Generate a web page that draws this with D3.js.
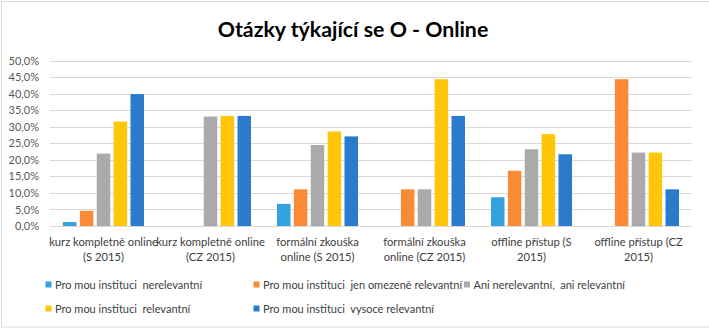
<!DOCTYPE html>
<html><head><meta charset="utf-8">
<script src="https://cdn.jsdelivr.net/npm/d3@7"></script>
<style>
html,body{margin:0;padding:0;background:#fff;}
svg text{font-family:Lato,"Open Sans",sans-serif;}
</style></head>
<body>
<svg id="chart" width="709" height="329"></svg>
<script>
const title = "Otázky týkající se O - Online";
const categories = [
  ["kurz kompletně online", "(S 2015)"],
  ["kurz kompletně online", "(CZ 2015)"],
  ["formální zkouška", "online (S 2015)"],
  ["formální zkouška", "online (CZ 2015)"],
  ["offline přístup (S", "2015)"],
  ["offline přístup (CZ", "2015)"]
];
const seriesNames = [
  "Pro mou instituci  nerelevantní",
  "Pro mou instituci  jen omezeně relevantní",
  "Ani nerelevantní,  ani relevantní",
  "Pro mou instituci  relevantní",
  "Pro mou instituci  vysoce relevantní"
];
const seriesColors = ["#33a2dd", "#fb8a36", "#aaaaaa", "#ffc60a", "#2b7bcd"];
const nerelevantni      = [1.2, null, 6.7, null, 8.7, null];
const omezeneRelevantni = [4.6, null, 11.1, 11.1, 16.7, 44.4];
const aniAni            = [21.9, 33.1, 24.5, 11.1, 23.2, 22.2];
const relevantni        = [31.6, 33.3, 28.6, 44.4, 27.8, 22.2];
const vysoceRelevantni  = [39.9, 33.3, 27.1, 33.3, 21.7, 11.1];
const yTicks = [0, 5, 10, 15, 20, 25, 30, 35, 40, 45, 50];

const series = [nerelevantni, omezeneRelevantni, aniAni, relevantni, vysoceRelevantni];

const svg = d3.select("#chart");
const plot = {left: 50, right: 692, top: 60.7, bottom: 226};

// frame
svg.append("rect").attr("x", 1.5).attr("y", 1.5).attr("width", 720).attr("height", 325.5)
  .attr("fill", "#fff").attr("stroke", "#d9d9d9").attr("stroke-width", 1);

svg.append("text").attr("x", 353).attr("y", 37).attr("text-anchor", "middle")
  .attr("font-size", 21.3).attr("font-weight", "bold").attr("fill", "#000").text(title);

const y = d3.scaleLinear().domain([0, 50]).range([plot.bottom, plot.top]);
const x = d3.scaleBand().domain(d3.range(categories.length)).range([plot.left, plot.right]).padding(0);
const xs = d3.scaleBand().domain(d3.range(series.length)).range([0, 81]).paddingInner(0.2);

const fmt = v => d3.format(".1f")(v).replace(".", ",") + "%";

// gridlines
svg.append("g").selectAll("line").data(yTicks).join("line")
  .attr("x1", plot.left).attr("x2", plot.right)
  .attr("y1", d => Math.round(y(d)) + 0.5).attr("y2", d => Math.round(y(d)) + 0.5)
  .attr("stroke", "#d9d9d9").attr("stroke-width", 1);

// y axis labels
const yAxis = d3.axisLeft(y).tickValues(yTicks).tickFormat(fmt).tickSize(0).tickPadding(0);
const gy = svg.append("g").attr("transform", `translate(39,0)`).call(yAxis);
gy.select(".domain").remove();
gy.selectAll("text").attr("font-size", 11).attr("fill", "#595959").attr("font-family", "Lato");

// bars
const off = x.bandwidth() / 2 - 40.5;
series.forEach((vals, si) => {
  svg.append("g").selectAll("rect").data(vals.map((v, i) => ({v, i})).filter(d => d.v != null)).join("rect")
    .attr("x", d => x(d.i) + off + xs(si))
    .attr("width", xs.bandwidth())
    .attr("y", d => y(d.v))
    .attr("height", d => y(0) - y(d.v))
    .attr("fill", seriesColors[si]);
});

// x labels
const xl = svg.append("g");
categories.forEach((lines, i) => {
  const cx = x(i) + x.bandwidth() / 2;
  const t = xl.append("text").attr("x", cx).attr("y", 246)
    .attr("text-anchor", "middle").attr("font-size", 11.2).attr("fill", "#404040");
  lines.forEach((ln, k) => t.append("tspan").attr("x", cx).attr("dy", k === 0 ? 0 : 15).text(ln));
});

// legend
const legendPos = [[45.5, 285], [253.5, 285], [464, 285], [45.5, 309], [253.5, 309]];
const lg = svg.append("g");
seriesNames.forEach((n, i) => {
  const [lx, ly] = legendPos[i];
  lg.append("rect").attr("x", lx).attr("y", ly - 3.5).attr("width", 6).attr("height", 6).attr("fill", seriesColors[i]);
  lg.append("text").attr("x", lx + 9.5).attr("y", ly + 4).attr("font-size", 11).attr("fill", "#404040")
    .style("white-space", "pre").text(n);
});
</script>
</body></html>
